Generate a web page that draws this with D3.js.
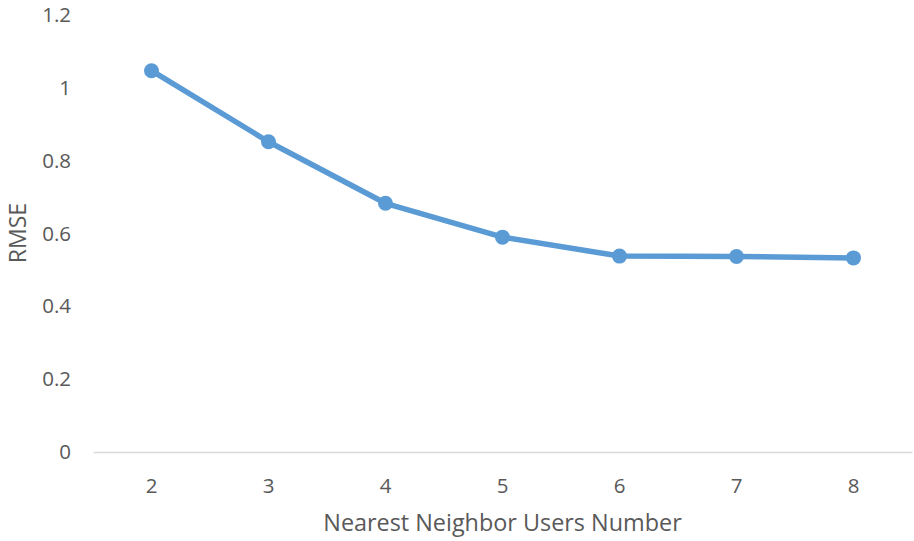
<!DOCTYPE html>
<html>
<head>
<meta charset="utf-8">
<script src="https://cdn.jsdelivr.net/npm/d3@7"></script>
<style>
  html, body { margin: 0; padding: 0; background: #fff; }
  text { font-family: "Open Sans", Lato, sans-serif; fill: #595959; }
</style>
</head>
<body>
<svg id="chart" width="914" height="541"></svg>
<script>
// Neighbourhood size vs. prediction error
const neighbors = ["2", "3", "4", "5", "6", "7", "8"];
const rmse = [1.047, 0.852, 0.683, 0.590, 0.538, 0.537, 0.533];
const yTicks = [0, 0.2, 0.4, 0.6, 0.8, 1, 1.2];

const svg = d3.select("#chart");
const margin = { left: 93, right: 2, top: 15, bottom: 89 };
const W = 914, H = 541;

const x = d3.scaleBand().domain(neighbors).range([margin.left, W - margin.right]);
const y = d3.scaleLinear().domain([0, 1.2]).range([H - margin.bottom, margin.top]);

// x axis baseline and category labels
const xAxis = svg.append("g")
  .attr("transform", `translate(0,${y(0)})`)
  .call(d3.axisBottom(x).tickSize(0).tickPadding(26));
xAxis.select(".domain").attr("stroke", "#d9d9d9").attr("stroke-width", 1.5);
xAxis.selectAll("text").attr("font-size", 20.5).style("fill", "#595959");

// y axis labels only
const yAxis = svg.append("g")
  .attr("transform", `translate(${margin.left - 22},0)`)
  .call(d3.axisLeft(y).tickValues(yTicks).tickSize(0).tickPadding(0)
    .tickFormat(d => d3.format("")(+d.toFixed(1))));
yAxis.select(".domain").remove();
yAxis.selectAll("text").attr("font-size", 20.5).style("fill", "#595959");

// axis titles
svg.append("text")
  .attr("x", (margin.left + W - margin.right) / 2)
  .attr("y", 531)
  .attr("text-anchor", "middle")
  .attr("font-size", 23.4)
  .text("Nearest Neighbor Users Number");

svg.append("text")
  .attr("transform", `translate(26,233) rotate(-90)`)
  .attr("text-anchor", "middle")
  .attr("font-size", 23)
  .text("RMSE");

// series line and markers
const cx = d => x(d) + x.bandwidth() / 2;
const line = d3.line().x((d, i) => cx(neighbors[i])).y(d => y(d));

svg.append("path")
  .datum(rmse)
  .attr("d", line)
  .attr("fill", "none")
  .attr("stroke", "#5B9BD5")
  .attr("stroke-width", 5.5)
  .attr("stroke-linejoin", "round");

svg.selectAll("circle.pt")
  .data(rmse)
  .join("circle")
  .attr("class", "pt")
  .attr("cx", (d, i) => cx(neighbors[i]))
  .attr("cy", d => y(d))
  .attr("r", 7.5)
  .attr("fill", "#5B9BD5");
</script>
</body>
</html>
